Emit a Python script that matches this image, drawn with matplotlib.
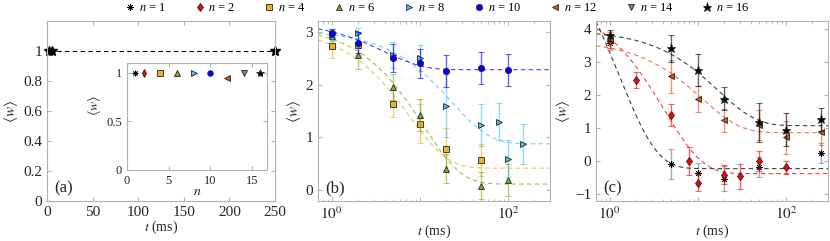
import matplotlib
matplotlib.use('Agg')
import matplotlib.pyplot as plt
import numpy as np
from matplotlib.lines import Line2D

plt.rcParams['font.family'] = ['Liberation Serif', 'DejaVu Serif']
plt.rcParams['mathtext.fontset'] = 'stix'

# series n values, colours and markers (MATLAB default order)
n_vals = [1, 2, 4, 6, 8, 10, 12, 14, 16]
colors = {1: 'k', 2: 'r', 4: (0.929, 0.694, 0.125), 6: (0.466, 0.674, 0.188),
          8: (0.301, 0.745, 0.933), 10: 'b', 12: (0.85, 0.325, 0.098),
          14: (0.5, 0.5, 0.5), 16: 'k'}
asterisk = (8, 2, 0)
markers = {1: asterisk, 2: 'd', 4: 's', 6: '^', 8: '>', 10: 'o', 12: '<', 14: 'v', 16: '*'}

# panel (a)
t_a = [2, 5, 250]
w_a = [1, 1, 1]
# inset: <w> at t -> 0 versus n
w_inset = [1, 1, 1, 1, 1, 1, 0.95, 1, 1]

# panel (b): data points
t_b = {4: [1, 2, 5, 10, 20, 50],
       6: [1, 2, 5, 10, 20, 50, 100],
       8: [1, 2, 5, 10, 20, 50, 80, 100, 150],
       10: [1, 2, 5, 10, 20, 50, 100]}
w_b = {4: [2.72, 2.75, 1.64, 1.26, 0.78, 0.57],
       6: [2.92, 2.55, 1.95, 1.42, 0.41, 0.09, 0.2],
       8: [2.95, 2.97, 2.56, 2.5, 1.6, 1.23, 1.3, 0.6, 0.88],
       10: [2.97, 2.79, 2.5, 2.4, 2.25, 2.31, 2.27]}
e_b = {4: [0.22, 0.2, 0.25, 0.37, 0.4, 0.3],
       6: [0.1, 0.25, 0.25, 0.3, 0.27, 0.25, 0.3],
       8: [0.1, 0.1, 0.25, 0.25, 0.6, 0.4, 0.35, 0.35, 0.38],
       10: [0.08, 0.2, 0.27, 0.27, 0.3, 0.3, 0.3]}
# fits w = c + A exp(-t/tau)
fit_b = {4: (2.65, 7.7, 0.42), 6: (3.0, 11.0, 0.12), 8: (2.15, 23.0, 0.88), 10: (0.92, 4.0, 2.28)}

# panel (c)
t_c = {1: [1, 5, 10, 20, 50, 250],
       2: [1, 2, 5, 8, 10, 20, 30, 50, 100],
       12: [1, 5, 10, 20, 50, 100, 250],
       16: [1, 5, 10, 20, 50, 100, 250]}
w_c = {1: [3.58, -0.08, -0.36, -0.52, -0.16, 0.25],
       2: [3.64, 2.47, 1.41, 0.02, -0.64, -0.4, -0.45, 0.02, -0.18],
       12: [3.68, 2.58, 1.88, 1.25, 1.1, 0.73, 0.88],
       16: [3.82, 3.42, 2.77, 1.9, 1.18, 0.96, 1.28]}
e_c = {1: [0.2, 0.46, 0.3, 0.38, 0.3, 0.3],
       2: [0.2, 0.25, 0.33, 0.42, 0.25, 0.3, 0.38, 0.3, 0.2],
       12: [0.25, 0.5, 0.4, 0.35, 0.45, 0.5, 0.38],
       16: [0.17, 0.42, 0.48, 0.35, 0.58, 0.5, 0.35]}
fit_c = {1: (7.74, 1.27, -0.22), 2: (5.2, 4.2, -0.37), 12: (2.8, 11.2, 0.87), 16: (2.9, 17.0, 1.08)}

AX_COL = '0.7'
TXT_COL = '0.15'


def style(ax, fs=10):
    for s in ax.spines.values():
        s.set_color(AX_COL)
        s.set_linewidth(0.8)
    ax.tick_params(which='both', direction='in', top=True, right=True,
                   color=AX_COL, labelcolor=TXT_COL, labelsize=fs)
    ax.tick_params(which='major', length=3)
    ax.tick_params(which='minor', length=1.8)


def mk(n, ms=4.5):
    size = ms + 2 if n == 16 else ms
    edge = 'k' if n == 1 else '0.15'
    return dict(marker=markers[n], markersize=size, markerfacecolor=colors[n],
                markeredgecolor=edge, markeredgewidth=0.6)


def draw_log_panel(ax, ts, ws, es, fits, order):
    tt = np.logspace(np.log10(0.7), np.log10(300), 400)
    for n in order:
        A, tau, c = fits[n]
        ax.plot(tt, c + A * np.exp(-tt / tau), '--', color=colors[n], lw=0.8, alpha=0.75,
                dashes=(4, 3))
    for n in order:
        ecol = '0.45' if n == 1 else colors[n]
        ax.errorbar(ts[n], ws[n], yerr=es[n], fmt='none', ecolor=ecol, elinewidth=1.0,
                    capsize=2, capthick=0.8, alpha=0.6)
        ax.plot(ts[n], ws[n], ls='none', **mk(n))
    ax.set_xscale('log')
    ax.set_xlim(0.7, 300)
    ax.set_xticks([1, 10, 100])
    ax.set_xticklabels(['$10^0$', '', '$10^2$'])
    ax.set_xticks([k * 10.0 ** d for d in (-1, 0, 1, 2) for k in range(2, 10)
                   if 0.7 <= k * 10.0 ** d <= 300], minor=True)
    ax.set_xlabel(r'$t$ (ms)', fontsize=10, color=TXT_COL, labelpad=0)
    ax.set_ylabel(r'$\langle w\rangle$', fontsize=11, color=TXT_COL, labelpad=2)


fig = plt.figure(figsize=(8.3, 2.41), dpi=100)
W, H = 830.0, 241.0


def rect(l, r, t, b):
    return [l / W, 1 - b / H, (r - l) / W, (b - t) / H]


# ---- panel (a)
axa = fig.add_axes(rect(47, 275, 21, 201))
axa.plot(t_a, w_a, '--', color='k', lw=0.8, dashes=(4, 3), zorder=1)
axa.plot(t_a, w_a, ls='none', marker='*', markersize=7, color='k', clip_on=False)
axa.set_xlim(0, 250)
axa.set_ylim(0, 1.2)
axa.set_xticks(range(0, 251, 50))
axa.set_yticks([0, 0.2, 0.4, 0.6, 0.8, 1])
axa.set_yticklabels(['0', '0.2', '0.4', '0.6', '0.8', '1'])
style(axa, 11)
axa.set_xlabel(r'$t$ (ms)', fontsize=10, color=TXT_COL, labelpad=0)
axa.set_ylabel(r'$\langle w\rangle$', fontsize=11, color=TXT_COL, labelpad=2)
axa.text(0.03, 0.05, '(a)', transform=axa.transAxes, fontsize=12, color=TXT_COL)

# inset
axi = fig.add_axes(rect(127, 267, 63, 170))
for n, w in zip(n_vals, w_inset):
    axi.plot([n], [w], ls='none', **mk(n, 4))
axi.set_xlim(0, 16.8)
axi.set_ylim(0, 1.1)
axi.set_xticks([0, 5, 10, 15])
axi.set_yticks([0, 0.5, 1])
axi.set_yticklabels(['0', '0.5', '1'])
style(axi, 9)
axi.set_xlabel(r'$n$', fontsize=10, color=TXT_COL, labelpad=-1)
axi.set_ylabel(r'$\langle w\rangle$', fontsize=10, color=TXT_COL, labelpad=1)
axi.yaxis.set_label_coords(-0.17, 0.6)

# ---- panel (b)
axb = fig.add_axes(rect(318, 550, 21, 201))
draw_log_panel(axb, t_b, w_b, e_b, fit_b, [4, 6, 8, 10])
axb.set_ylim(-0.2, 3.2)
axb.set_yticks([0, 1, 2, 3])
style(axb, 11)
axb.text(0.03, 0.05, '(b)', transform=axb.transAxes, fontsize=12, color=TXT_COL)

# ---- panel (c)
axc = fig.add_axes(rect(596, 828, 21, 201))
draw_log_panel(axc, t_c, w_c, e_c, fit_c, [1, 2, 12, 16])
axc.set_ylim(-1.2, 4.25)
axc.set_yticks([-1, 0, 1, 2, 3, 4])
style(axc, 11)
axc.text(0.03, 0.05, '(c)', transform=axc.transAxes, fontsize=12, color=TXT_COL)

# legend
handles = [Line2D([], [], ls='none', **mk(n, 4.5)) for n in n_vals]
labels = [r'$n$ = %d' % n for n in n_vals]
fig.legend(handles, labels, loc='center', bbox_to_anchor=(0.527, 0.967), ncol=9,
           frameon=False, fontsize=9, handlelength=0.8, handletextpad=0.3,
           columnspacing=2.3, borderpad=0)

fig.savefig('out.png', dpi=100)
